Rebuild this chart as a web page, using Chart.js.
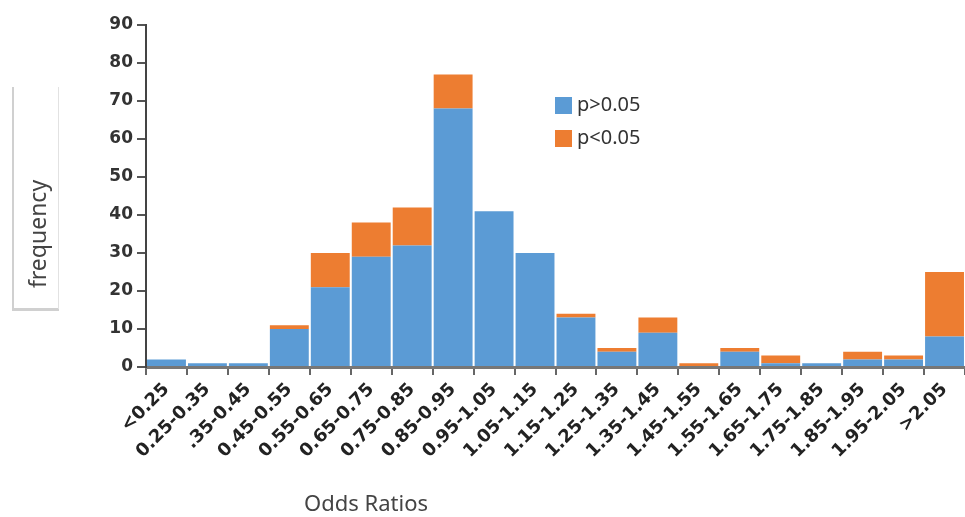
<!DOCTYPE html>
<html>
<head>
<meta charset="utf-8">
<script src="https://cdn.jsdelivr.net/npm/chart.js@4.4.0/dist/chart.umd.min.js"></script>
<style>
  html, body { margin: 0; padding: 0; background: #fff; }
  #wrap { width: 965px; height: 517px; position: relative; }
</style>
</head>
<body>
<div id="wrap"><canvas id="oddsChart"></canvas></div>
<script>
// odds ratio bins
const categories = ['<0.25', '0.25-0.35', '.35-0.45', '0.45-0.55', '0.55-0.65', '0.65-0.75',
    '0.75-0.85', '0.85-0.95', '0.95-1.05', '1.05-1.15', '1.15-1.25', '1.25-1.35', '1.35-1.45',
    '1.45-1.55', '1.55-1.65', '1.65-1.75', '1.75-1.85', '1.85-1.95', '1.95-2.05', '>2.05'];
const notSignificant = [2, 1, 1, 10, 21, 29, 32, 68, 41, 30, 13, 4, 9, 0, 4, 1, 1, 2, 2, 8];
const significant = [0, 0, 0, 1, 9, 9, 10, 9, 0, 0, 1, 1, 4, 1, 1, 2, 0, 2, 1, 17];
const yMax = 90;
const yStep = 10;

const blue = '#5b9bd5';
const orange = '#ed7d31';
const textColor = '#333333';

// legend, x title and the boxed y title are drawn by hand
const extras = {
    id: 'extras',
    afterDraw(chart) {
        const ctx = chart.ctx;
        ctx.save();

        // y title box
        ctx.fillStyle = '#d0d0d0';
        ctx.fillRect(12, 87, 2, 224);
        ctx.fillRect(12, 308, 47, 3);
        ctx.fillStyle = '#e2e2e2';
        ctx.fillRect(58, 87, 1, 222);
        ctx.translate(39, 234);
        ctx.rotate(-Math.PI / 2);
        ctx.fillStyle = '#444';
        ctx.font = '23px "Noto Sans"';
        ctx.textAlign = 'center';
        ctx.textBaseline = 'middle';
        ctx.fillText('frequency', 0, 0);
        ctx.setTransform(1, 0, 0, 1, 0, 0);
        ctx.scale(chart.currentDevicePixelRatio, chart.currentDevicePixelRatio);

        // legend
        ctx.font = '20px "Noto Sans"';
        ctx.textAlign = 'left';
        ctx.textBaseline = 'middle';
        chart.data.datasets.forEach((ds, i) => {
            const y = 105 + i * 33;
            ctx.fillStyle = ds.backgroundColor;
            ctx.fillRect(555, y - 8, 17, 17);
            ctx.fillStyle = textColor;
            ctx.fillText(ds.label, 577, y);
        });

        // x title
        ctx.font = '22px "Noto Sans"';
        ctx.fillStyle = '#444';
        ctx.textAlign = 'center';
        ctx.fillText('Odds Ratios', 366, 505);
        ctx.restore();
    }
};

const ctx = document.getElementById('oddsChart').getContext('2d');
new Chart(ctx, {
    type: 'bar',
    data: {
        labels: categories,
        datasets: [{
            label: 'p>0.05',
            data: notSignificant,
            backgroundColor: blue,
            categoryPercentage: 0.95,
            barPercentage: 1
        }, {
            label: 'p<0.05',
            data: significant,
            backgroundColor: orange,
            categoryPercentage: 0.95,
            barPercentage: 1
        }]
    },
    options: {
        responsive: true,
        maintainAspectRatio: false,
        animation: false,
        layout: { padding: { top: 25, left: 0, right: 0, bottom: 0 } },
        plugins: {
            legend: { display: false },
            tooltip: { enabled: false }
        },
        scales: {
            x: {
                stacked: true,
                grid: { drawOnChartArea: false, tickLength: 8, color: '#666', lineWidth: 2 },
                border: { color: '#777', width: 3 },
                ticks: {
                    minRotation: 45,
                    maxRotation: 45,
                    color: '#222',
                    padding: 4,
                    font: { family: "'DejaVu Sans'", size: 18, weight: 'bold' }
                },
                afterFit: (scale) => { scale.height = 150; }
            },
            y: {
                stacked: true,
                min: 0,
                max: yMax,
                grid: { drawOnChartArea: false, tickLength: 9, color: '#555', lineWidth: 2 },
                border: { color: '#444', width: 2 },
                ticks: {
                    stepSize: yStep,
                    color: textColor,
                    padding: 4,
                    font: { family: "'DejaVu Sans'", size: 17, weight: 'bold' }
                },
                afterFit: (scale) => { scale.width = 146; }
            }
        }
    },
    plugins: [extras]
});
</script>
</body>
</html>
